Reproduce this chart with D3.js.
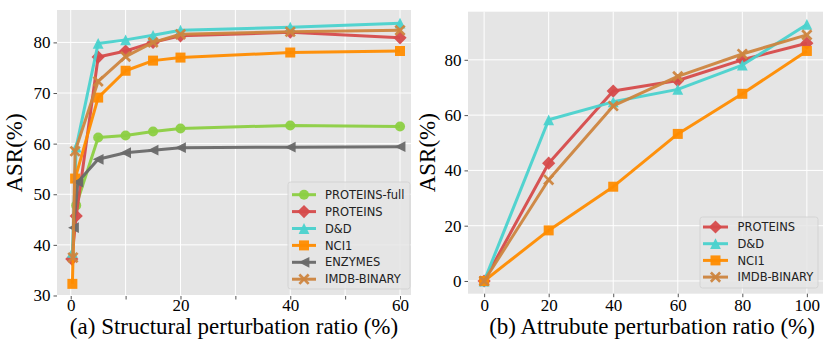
<!DOCTYPE html>
<html><head><meta charset="utf-8">
<script src="https://cdn.jsdelivr.net/npm/d3@7"></script>
<style>
body{margin:0;background:#fff;}
svg{display:block;}
</style></head>
<body>
<svg id="c" width="830" height="344"></svg>
<script>
// ---------- Data ----------
const leftSeriesNames = ["PROTEINS-full","PROTEINS","D&D","NCI1","ENZYMES","IMDB-BINARY"];
const proteinsFullX = [1, 5, 10, 15, 20, 40, 60];
const proteinsFullY = [47.8, 61.2, 61.6, 62.4, 63.0, 63.6, 63.4];
const proteinsX = [0.2, 1, 5, 10, 15, 20, 40, 60];
const proteinsY = [37.2, 45.7, 77.1, 78.3, 80.0, 81.3, 82.0, 80.9];
const ddX = [0.3, 1, 5, 10, 15, 20, 40, 60];
const ddY = [38.5, 59.3, 79.8, 80.5, 81.4, 82.4, 83.0, 83.8];
const nci1X = [0.3, 0.8, 5, 10, 15, 20, 40, 60];
const nci1Y = [32.3, 53.1, 69.1, 74.4, 76.4, 77.0, 78.0, 78.3];
const enzymesX = [0.5, 1.3, 5, 10, 15, 20, 40, 60];
const enzymesY = [43.4, 52.4, 56.9, 58.2, 58.7, 59.2, 59.3, 59.4];
const imdbX = [0.4, 0.8, 5, 10, 15, 20, 40, 60];
const imdbY = [37.5, 58.5, 72.3, 77.2, 80.0, 81.6, 82.1, 82.4];

const leftXTicks = [0, 10, 20, 30, 40, 50, 60];
const leftXTickLabels = ["0", "", "20", "", "40", "", "60"];
const leftYTicks = [30, 40, 50, 60, 70, 80];

const rightSeriesNames = ["PROTEINS","D&D","NCI1","IMDB-BINARY"];
const attrX = [0, 20, 40, 60, 80, 100];
const attrProteinsY = [0, 42.6, 68.7, 72.5, 80.0, 86.0];
const attrDdY = [0, 58.3, 64.8, 69.3, 78.1, 92.8];
const attrNci1Y = [0, 18.3, 34.1, 53.2, 67.7, 83.2];
const attrImdbY = [0, 36.6, 63.3, 74.0, 82.1, 89.0];
const rightXTicks = [0, 20, 40, 60, 80, 100];
const rightYTicks = [0, 20, 40, 60, 80];

const xLabelLeft = "(a) Structural perturbation ratio (%)";
const xLabelRight = "(b) Attrubute perturbation ratio (%)";
const yLabel = "ASR(%)";

// ---------- Styles ----------
const styles = {
  "PROTEINS-full": {color:"#8ccf42", marker:"circle"},
  "PROTEINS": {color:"#d64b4b", marker:"diamond"},
  "D&D": {color:"#4ad2cd", marker:"triangle"},
  "NCI1": {color:"#ff8c00", marker:"square"},
  "ENZYMES": {color:"#696969", marker:"left"},
  "IMDB-BINARY": {color:"#cd853f", marker:"x"}
};

function markerPath(type){
  switch(type){
    case "circle": { const r=5; return `M${r},0A${r},${r},0,1,1,${-r},0A${r},${r},0,1,1,${r},0Z`; }
    case "diamond": { const s=6.6; return `M0,${-s}L${s},0L0,${s}L${-s},0Z`; }
    case "triangle": { const s=5.4; return `M0,${-s}L${s},${s}L${-s},${s}Z`; }
    case "left": { const s=5.4; return `M${-s},0L${s},${-s}L${s},${s}Z`; }
    case "square": { const s=5; return `M${-s},${-s}H${s}V${s}H${-s}Z`; }
    case "x": {
      const a=5.6, w=1.9;
      const p=[[-a,-a+w],[-a+w,-a],[0,-w],[a-w,-a],[a,-a+w],[w,0],[a,a-w],[a-w,a],[0,w],[-a+w,a],[-a,a-w],[-w,0]];
      return "M"+p.map(d=>d.join(",")).join("L")+"Z";
    }
  }
}

const svg = d3.select("#c");
const serif = "'Liberation Serif','Times New Roman',serif";
const sans = "'DejaVu Sans',sans-serif";

function drawPanel(cfg){
  const g = svg.append("g");
  const x = d3.scaleLinear().domain(cfg.xDomain).range(cfg.xRange);
  const y = d3.scaleLinear().domain(cfg.yDomain).range(cfg.yRange);
  const [x0,x1] = cfg.xRange, [y0,y1] = cfg.yRange;
  g.append("rect").attr("x",x0).attr("y",y1).attr("width",x1-x0).attr("height",y0-y1).attr("fill","#e5e5e5");
  // grid
  g.append("g").selectAll("line").data(cfg.xTicks).join("line")
    .attr("x1",d=>x(d)).attr("x2",d=>x(d)).attr("y1",y1).attr("y2",y0)
    .attr("stroke","#fff").attr("stroke-width",1);
  g.append("g").selectAll("line").data(cfg.yTicks).join("line")
    .attr("y1",d=>y(d)).attr("y2",d=>y(d)).attr("x1",x0).attr("x2",x1)
    .attr("stroke","#fff").attr("stroke-width",1);
  // axes
  const xAxis = d3.axisBottom(x).tickValues(cfg.xTicks).tickSize(3.5)
    .tickFormat((d,i)=>cfg.xTickLabels[i]);
  const ax = g.append("g").attr("transform",`translate(0,${y0})`).call(xAxis);
  const yAxis = d3.axisLeft(y).tickValues(cfg.yTicks).tickSize(3.5).tickPadding(3).tickFormat(d3.format("d"));
  const ay = g.append("g").attr("transform",`translate(${x0},0)`).call(yAxis);
  [ax,ay].forEach(a=>{
    a.select(".domain").remove();
    a.selectAll(".tick line").attr("stroke","#555");
    a.selectAll(".tick text").attr("fill","#000").style("font-family",serif).style("font-size","17px");
  });
  ax.selectAll(".tick text").attr("dy",null).attr("y",cfg.xTickBase - y0);
  // series
  const line = d3.line().x(d=>x(d[0])).y(d=>y(d[1]));
  cfg.series.forEach(s=>{
    const st = styles[s.name];
    const pts = s.xs.map((v,i)=>[v,s.ys[i]]);
    const sg = g.append("g");
    sg.append("path").attr("d",line(pts)).attr("fill","none").attr("stroke",st.color)
      .attr("stroke-width",3).attr("stroke-linejoin","round").attr("opacity",0.95);
    sg.selectAll("path.m").data(pts).join("path").attr("class","m")
      .attr("d",markerPath(st.marker)).attr("transform",d=>`translate(${x(d[0])},${y(d[1])})`)
      .attr("fill",st.color).attr("opacity",0.95);
  });
  // legend
  const L = cfg.legend;
  const lg = g.append("g");
  lg.append("rect").attr("x",L.x).attr("y",L.y).attr("width",L.w).attr("height",L.h)
    .attr("rx",2.5).attr("fill","#e5e5e5").attr("fill-opacity",0.85).attr("stroke","#cfcfcf").attr("stroke-width",0.8);
  cfg.series.forEach((s,i)=>{
    const st = styles[s.name];
    const cy = L.y0 + i*L.dy;
    lg.append("line").attr("x1",L.lx0).attr("x2",L.lx1).attr("y1",cy).attr("y2",cy)
      .attr("stroke",st.color).attr("stroke-width",3).attr("opacity",0.95);
    lg.append("path").attr("d",markerPath(st.marker)).attr("transform",`translate(${(L.lx0+L.lx1)/2},${cy})`)
      .attr("fill",st.color).attr("opacity",0.95);
    lg.append("text").attr("x",L.tx).attr("y",cy).attr("dy","0.36em").text(s.name)
      .style("font-family",sans).style("font-size","11.5px").attr("fill","#222");
  });
  // labels
  g.append("text").attr("x",cfg.xlabX).attr("y",333.5).attr("text-anchor","middle")
    .style("font-family",serif).style("font-size","23px").attr("fill","#000").text(cfg.xlabel);
  g.append("text").attr("transform",`translate(${cfg.ylabX},${(y0+y1)/2}) rotate(-90)`)
    .attr("text-anchor","middle").style("font-family",serif).style("font-size","23px").attr("fill","#000").text(yLabel);
}

drawPanel({
  xDomain:[-2.5,62], xRange:[57,411], yDomain:[29.9,86.4], yRange:[296,10],
  xTicks:leftXTicks, xTickLabels:leftXTickLabels, yTicks:leftYTicks, xTickBase:311,
  series:[
    {name:"PROTEINS-full", xs:proteinsFullX, ys:proteinsFullY},
    {name:"PROTEINS", xs:proteinsX, ys:proteinsY},
    {name:"D&D", xs:ddX, ys:ddY},
    {name:"NCI1", xs:nci1X, ys:nci1Y},
    {name:"ENZYMES", xs:enzymesX, ys:enzymesY},
    {name:"IMDB-BINARY", xs:imdbX, ys:imdbY}
  ],
  legend:{x:288,y:182,w:122,h:107,y0:194.7,dy:16.9,lx0:292,lx1:316,tx:325},
  xlabel:xLabelLeft, xlabX:234, ylabX:22
});

drawPanel({
  xDomain:[-5,105], xRange:[468,823], yDomain:[-4.6,97.4], yRange:[293.7,11.7],
  xTicks:rightXTicks, xTickLabels:rightXTicks.map(String), yTicks:rightYTicks, xTickBase:311,
  series:[
    {name:"PROTEINS", xs:attrX, ys:attrProteinsY},
    {name:"D&D", xs:attrX, ys:attrDdY},
    {name:"NCI1", xs:attrX, ys:attrNci1Y},
    {name:"IMDB-BINARY", xs:attrX, ys:attrImdbY}
  ],
  legend:{x:700,y:217,w:118,h:71,y0:227,dy:16.7,lx0:703,lx1:728,tx:737.5},
  xlabel:xLabelRight, xlabX:652, ylabX:435
});
</script>
</body></html>
